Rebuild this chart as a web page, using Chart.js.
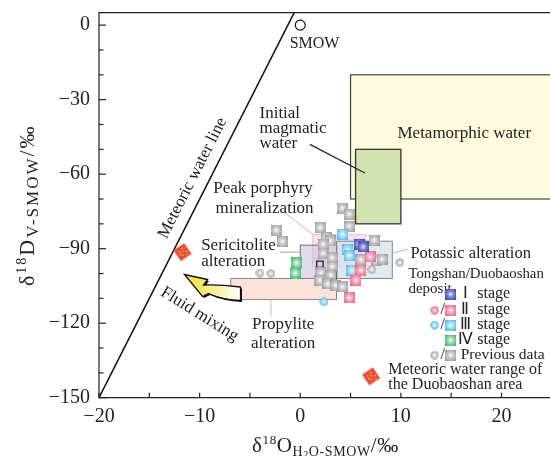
<!DOCTYPE html>
<html>
<head>
<meta charset="utf-8">
<script src="https://cdn.jsdelivr.net/npm/chart.js@4.4.1/dist/chart.umd.min.js"></script>
<style>
  html, body { margin: 0; padding: 0; overflow: hidden; background: #fff; }
  #wrap { width: 558px; height: 456px; }
</style>
</head>
<body>
<div id="wrap"><canvas id="isoChart" width="558" height="456"></canvas></div>
<script>
const SERIF = '"Liberation Serif", "Times New Roman", serif';

// axis ticks
const xTicks = [-20, -10, 0, 10, 20];
const yTicks = [-150, -120, -90, -60, -30, 0];

// meteoric water line end points and SMOW
const mwlX = [-20, -0.6];
const mwlY = [-150, 5];
const smowX = [0];
const smowY = [0];

// Tongshan / Duobaoshan deposit
const stage1X = [5.85, 6.25];
const stage1Y = [-88.2, -89.3];
const stage2X = [6.94, 6.02, 5.53, 4.86];
const stage2Y = [-93.3, -98.7, -102.7, -109.7];
const stage3X = [4.2, 4.69, 4.86, 5.13];
const stage3Y = [-84.2, -90.4, -92.8, -98.7];
const stage3CircleX = [2.35];
const stage3CircleY = [-111.4];
const stage4X = [-0.37, -0.5];
const stage4Y = [-95.7, -99.8];

// previous data
const prevSquareX = [4.17, 4.86, 4.86, 1.98, -2.38, -1.79, 2.58, 2.98, 2.28, 7.34, 2.28,
  3.17, 6.02, 7.54, 8.13, 3.17, 2.05, 3.05, 1.95, 2.73, 3.52, 4.2];
const prevSquareY = [-73.7, -76.1, -80.9, -81.5, -82.5, -87.0, -85.4, -86.8, -88.2, -86.6, -91.8,
  -93.6, -94.4, -94.8, -94.2, -97.1, -99.7, -100.7, -102.7, -104.1, -104.7, -105.3];
const prevCircleX = [7.11, 9.89, -4.0, -2.91];
const prevCircleY = [-98.4, -95.6, -99.8, -100.0];
const openSquareX = [1.95, 3.2];
const openSquareY = [-96.3, -101.1];

// meteoric water range markers
const meteoricX = [-11.7, 7.04];
const meteoricY = [-91.4, -141.4];

// field ranges [xMin, xMax, yMin, yMax]
const metamorphicBox = [5, 25, -70, -20];
const magmaticBox = [5.5, 10, -80, -50];
const peakBox = [1.2, 6.55, -97.3, -84.2];
const sericiteBox = [0, 3.7, -102, -88.6];
const potassicBox = [3.6, 9.15, -102, -87];
const propyliteBox = [-6.9, 3.6, -110.5, -102];

function toPoints(xs, ys) {
  return xs.map((x, i) => ({ x: x, y: ys[i] }));
}

function squareMarker(edge, mid) {
  const c = document.createElement('canvas');
  c.width = 11; c.height = 11;
  const g = c.getContext('2d');
  const grad = g.createRadialGradient(5.5, 5.5, 0, 5.5, 5.5, 7.2);
  grad.addColorStop(0, '#ffffff');
  grad.addColorStop(0.35, mid);
  grad.addColorStop(1, edge);
  g.fillStyle = grad;
  g.fillRect(0, 0, 11, 11);
  return c;
}

function circleMarker(edge, mid) {
  const c = document.createElement('canvas');
  c.width = 9; c.height = 9;
  const g = c.getContext('2d');
  const grad = g.createRadialGradient(4.5, 4.5, 0, 4.5, 4.5, 4.5);
  grad.addColorStop(0, '#ffffff');
  grad.addColorStop(0.4, mid);
  grad.addColorStop(1, edge);
  g.fillStyle = grad;
  g.beginPath();
  g.arc(4.5, 4.5, 4.2, 0, Math.PI * 2);
  g.fill();
  return c;
}

function diamondMarker() {
  const c = document.createElement('canvas');
  c.width = 22; c.height = 20;
  const g = c.getContext('2d');
  g.translate(11, 10);
  g.rotate(-0.6);
  g.fillStyle = '#ee4a3b';
  g.fillRect(-6.5, -6.5, 13, 13);
  g.fillStyle = '#f7d64a';
  [[-3, -3], [1, -4], [3, 1], [-2, 2], [0, -1], [-4, 0], [2, 4]].forEach(([x, y]) => {
    g.fillRect(x, y, 1.4, 1.4);
  });
  return c;
}

const markers = {
  grey: squareMarker('#999999', '#d0d0d0'),
  greyDot: circleMarker('#a0a0a0', '#d6d6d6'),
  blue: squareMarker('#3343a4', '#8890d8'),
  pink: squareMarker('#ec5f86', '#f8b0c4'),
  pinkDot: circleMarker('#ec5f86', '#f8b0c4'),
  cyan: squareMarker('#45b8ea', '#aee0f7'),
  cyanDot: circleMarker('#45b8ea', '#aee0f7'),
  green: squareMarker('#36b566', '#a4e0b8'),
  diamond: diamondMarker(),
};

const labelNotes = [
  // text, x, y, align, size, rotation
  ['SMOW', -1.05, -7.4, 'left', 16, 0],
  ['Initial', -4.05, -35.4, 'left', 17, 0],
  ['magmatic', -4.05, -41.5, 'left', 17, 0],
  ['water', -4.05, -47.5, 'left', 17, 0],
  ['Metamorphic water', 16.3, -43.6, 'center', 17, 0],
  ['Peak porphyry', -3.7, -65.6, 'center', 17, 0],
  ['mineralization', -3.55, -73.7, 'center', 17, 0],
  ['Sericitolite', -9.85, -88.6, 'left', 17, 0],
  ['alteration', -9.85, -95.3, 'left', 17, 0],
  ['Potassic alteration', 10.95, -92.2, 'left', 16.5, 0],
  ['Tongshan/Duobaoshan', 10.75, -100.1, 'left', 14.8, 0],
  ['deposit', 10.75, -106.3, 'left', 15, 0],
  ['Previous data', 15.95, -132.9, 'left', 15.5, 0],
  ['Meteoric water range of', 8.75, -138.7, 'left', 16, 0],
  ['the Duobaoshan area', 8.75, -145.0, 'left', 16, 0],
  ['Propylite', -1.7, -120.4, 'center', 17, 0],
  ['alteration', -1.7, -128.1, 'center', 17, 0],
  ['Meteoric water line', -10.7, -61.6, 'center', 17, -63.1],
  ['Fluid mixing', -10.0, -116.4, 'center', 17, 32],
];

const legendRows = [
  // numeral, y, circle marker, square marker
  ['Ⅰ', -108.3, null, 'blue'],
  ['Ⅱ', -114.8, 'pinkDot', 'pink'],
  ['Ⅲ', -120.8, 'cyanDot', 'cyan'],
  ['Ⅳ', -126.8, null, 'green'],
  ['', -132.9, 'greyDot', 'grey'],
];

const pointerLines = [
  // x1, y1, x2, y2, colour
  [0.96, -48.0, 6.42, -59.5, '#222'],
  [-1.6, -75.3, 1.2, -84.2, '#e8a8c0'],
  [-2.0, -91.4, 0, -91.4, '#a89ccc'],
  [9.15, -91.8, 10.7, -90.2, '#8cc7c7'],
  [-2.9, -110.5, -2.9, -117.2, '#f2b2a2'],
];

const fieldPlugin = {
  id: 'fields',
  beforeDatasetsDraw(chart) {
    const { ctx, chartArea: a, scales: { x, y } } = chart;
    ctx.save();
    ctx.beginPath();
    ctx.rect(a.left, a.top, a.right - a.left, a.bottom - a.top);
    ctx.clip();
    const box = (b, fill, stroke, lw) => {
      const l = x.getPixelForValue(b[0]);
      const r = x.getPixelForValue(b[1]);
      const t = y.getPixelForValue(b[3]);
      const bt = y.getPixelForValue(b[2]);
      ctx.fillStyle = fill;
      ctx.fillRect(l, t, r - l, bt - t);
      ctx.strokeStyle = stroke;
      ctx.lineWidth = lw;
      ctx.strokeRect(l, t, r - l, bt - t);
    };
    box(metamorphicBox, '#fefbdf', '#444', 1.2);
    box(magmaticBox, '#d3e2b1', '#333', 1.3);
    box(peakBox, 'rgba(244,214,228,0.75)', '#e4bccd', 0.8);
    box(sericiteBox, 'rgba(200,188,222,0.55)', '#6e6e6e', 1);
    box(potassicBox, 'rgba(214,226,230,0.75)', '#858585', 1);
    box(propyliteBox, '#fde2da', '#858585', 1);

    pointerLines.forEach(([x1, y1, x2, y2, col]) => {
      ctx.strokeStyle = col;
      ctx.lineWidth = col === '#222' ? 1.2 : 1;
      ctx.beginPath();
      ctx.moveTo(x.getPixelForValue(x1), y.getPixelForValue(y1));
      ctx.lineTo(x.getPixelForValue(x2), y.getPixelForValue(y2));
      ctx.stroke();
    });

    // fluid mixing arrow, tip anchored in data space
    const tx = x.getPixelForValue(-11.5);
    const ty = y.getPixelForValue(-100.4);
    const shape = (dx, dy) => {
      ctx.beginPath();
      ctx.moveTo(tx + dx, ty + dy);
      ctx.lineTo(tx + 23 + dx, ty + 5 + dy);
      ctx.lineTo(tx + 19 + dx, ty + 10.5 + dy);
      ctx.quadraticCurveTo(tx + 36 + dx, ty + 10 + dy, tx + 56 + dx, ty + 12.5 + dy);
      ctx.lineTo(tx + 56 + dx, ty + 26 + dy);
      ctx.quadraticCurveTo(tx + 37 + dx, ty + 25 + dy, tx + 24 + dx, ty + 19 + dy);
      ctx.lineTo(tx + 18 + dx, ty + 22 + dy);
      ctx.closePath();
    };
    shape(1.5, 1.5);
    ctx.fillStyle = '#111';
    ctx.fill();
    shape(0, 0);
    const grad = ctx.createLinearGradient(tx, 0, tx + 56, 0);
    grad.addColorStop(0, '#f3df2c');
    grad.addColorStop(0.55, '#f8ef9a');
    grad.addColorStop(1, '#ffffff');
    ctx.fillStyle = grad;
    ctx.fill();
    ctx.strokeStyle = '#111';
    ctx.lineWidth = 1.3;
    ctx.stroke();
    ctx.restore();
  },
};

function drawRich(ctx, parts, cx, cy, angle, spacing) {
  ctx.save();
  ctx.translate(cx, cy);
  ctx.rotate(angle);
  ctx.letterSpacing = spacing + 'px';
  let total = 0;
  parts.forEach((p) => {
    ctx.font = p[1] + 'px ' + SERIF;
    p.w = ctx.measureText(p[0]).width;
    total += p.w;
  });
  let px = -total / 2;
  ctx.textAlign = 'left';
  ctx.textBaseline = 'alphabetic';
  ctx.fillStyle = '#222';
  parts.forEach((p) => {
    ctx.font = p[1] + 'px ' + SERIF;
    ctx.fillText(p[0], px, 7 + p[2]);
    px += p.w;
  });
  ctx.restore();
}

const overlayPlugin = {
  id: 'overlay',
  afterDraw(chart) {
    const { ctx, chartArea: a, scales: { x, y } } = chart;
    ctx.save();
    ctx.strokeStyle = '#222';
    ctx.lineWidth = 1.2;
    ctx.beginPath();
    ctx.moveTo(a.right, a.top);
    ctx.lineTo(a.left, a.top);
    ctx.lineTo(a.left, a.bottom);
    ctx.lineTo(a.right, a.bottom);
    ctx.stroke();
    for (let v = -20; v <= 25; v += 5) {
      const px = x.getPixelForValue(v);
      ctx.beginPath();
      ctx.moveTo(px, a.bottom);
      ctx.lineTo(px, a.bottom - 5);
      ctx.stroke();
    }
    for (let v = -150; v <= 0; v += 10) {
      const py = y.getPixelForValue(v);
      ctx.beginPath();
      ctx.moveTo(a.left, py);
      ctx.lineTo(a.left + (v % 30 === 0 ? 7 : 4.5), py);
      ctx.stroke();
    }

    ctx.fillStyle = '#222';
    ctx.textBaseline = 'middle';
    labelNotes.forEach(([text, vx, vy, align, size, rot]) => {
      ctx.save();
      ctx.translate(x.getPixelForValue(vx), y.getPixelForValue(vy));
      ctx.rotate(rot * Math.PI / 180);
      ctx.font = size + 'px ' + SERIF;
      ctx.textAlign = align;
      ctx.fillText(text, 0, 0);
      ctx.restore();
    });

    legendRows.forEach(([num, vy, dot, sq]) => {
      const py = y.getPixelForValue(vy);
      const sqImg = markers[sq];
      ctx.drawImage(sqImg, x.getPixelForValue(14.95) - 5.5, py - 5.5);
      if (dot) {
        const dImg = markers[dot];
        ctx.drawImage(dImg, x.getPixelForValue(13.35) - 4.5, py - 4.5);
        ctx.font = '16px ' + SERIF;
        ctx.textAlign = 'center';
        ctx.fillText('/', x.getPixelForValue(14.15), py);
      }
      if (num) {
        ctx.font = '16px ' + SERIF;
        ctx.textAlign = 'center';
        ctx.fillText(num, x.getPixelForValue(16.4), py);
        ctx.textAlign = 'left';
        ctx.fillText('stage', x.getPixelForValue(17.6), py);
      }
    });

    const cx = x.getPixelForValue(2.5);
    drawRich(ctx, [['δ', 21, 0], ['18', 13, -8], ['O', 21, 0], ['H', 14, 4], ['2', 10, 6],
      ['O-SMOW', 14, 4], ['/‰', 21, 0]], cx, 445, 0, 0.6);
    drawRich(ctx, [['δ', 22, 0], ['18', 14, -8], ['D', 22, 0], ['V-SMOW', 17, 4],
      ['/‰', 22, 0]], 27, (a.top + a.bottom) / 2, -Math.PI / 2, 2);
    ctx.restore();
  },
};

const tickFont = { family: SERIF, size: 20 };
const minus = (v) => (v < 0 ? '−' + Math.abs(v) : String(v));

const squareSet = (label, xs, ys, img, order) => ({
  label: label,
  data: toPoints(xs, ys),
  pointStyle: img,
  pointRadius: 5,
  order: order,
});

new Chart(document.getElementById('isoChart'), {
  type: 'scatter',
  data: {
    datasets: [
      {
        label: 'Meteoric water line',
        data: toPoints(mwlX, mwlY),
        showLine: true,
        borderColor: '#111',
        borderWidth: 1.5,
        pointRadius: 0,
        order: 9,
      },
      {
        label: 'SMOW',
        data: toPoints(smowX, smowY),
        pointStyle: 'circle',
        pointRadius: 5,
        backgroundColor: '#fff',
        borderColor: '#111',
        borderWidth: 1.2,
        order: 1,
      },
      {
        label: 'Open squares',
        data: toPoints(openSquareX, openSquareY),
        pointStyle: 'rect',
        pointRadius: 4.5,
        backgroundColor: 'rgba(255,255,255,0)',
        borderColor: '#222',
        borderWidth: 1.4,
        order: 8,
      },
      squareSet('Previous data', prevSquareX, prevSquareY, markers.grey, 7),
      squareSet('Previous data circles', prevCircleX, prevCircleY, markers.greyDot, 7),
      squareSet('Stage IV', stage4X, stage4Y, markers.green, 5),
      squareSet('Stage III', stage3X, stage3Y, markers.cyan, 4),
      squareSet('Stage III circles', stage3CircleX, stage3CircleY, markers.cyanDot, 4),
      squareSet('Stage II', stage2X, stage2Y, markers.pink, 3),
      squareSet('Stage I', stage1X, stage1Y, markers.blue, 2),
      squareSet('Meteoric water range', meteoricX, meteoricY, markers.diamond, 1),
    ],
  },
  options: {
    responsive: false,
    animation: false,
    events: [],
    layout: { padding: { top: 12.7, left: 0, right: 0, bottom: 0 } },
    plugins: {
      legend: { display: false },
      tooltip: { enabled: false },
    },
    scales: {
      x: {
        type: 'linear',
        min: -20,
        max: 25,
        afterBuildTicks(scale) { scale.ticks = xTicks.map((v) => ({ value: v })); },
        afterFit(scale) {
          scale.height = 58.3;
          scale.paddingLeft = 0;
          scale.paddingRight = 0;
        },
        grid: { display: false, drawTicks: false },
        border: { display: false },
        ticks: { font: tickFont, color: '#222', padding: 7, maxRotation: 0, callback: minus },
      },
      y: {
        type: 'linear',
        min: -150,
        max: 5,
        afterBuildTicks(scale) { scale.ticks = yTicks.map((v) => ({ value: v })); },
        afterFit(scale) {
          scale.width = 99;
          scale.paddingTop = 0;
          scale.paddingBottom = 0;
        },
        grid: { display: false, drawTicks: false },
        border: { display: false },
        ticks: { font: tickFont, color: '#222', padding: 9, callback: minus },
      },
    },
  },
  plugins: [fieldPlugin, overlayPlugin],
});
</script>
</body>
</html>
